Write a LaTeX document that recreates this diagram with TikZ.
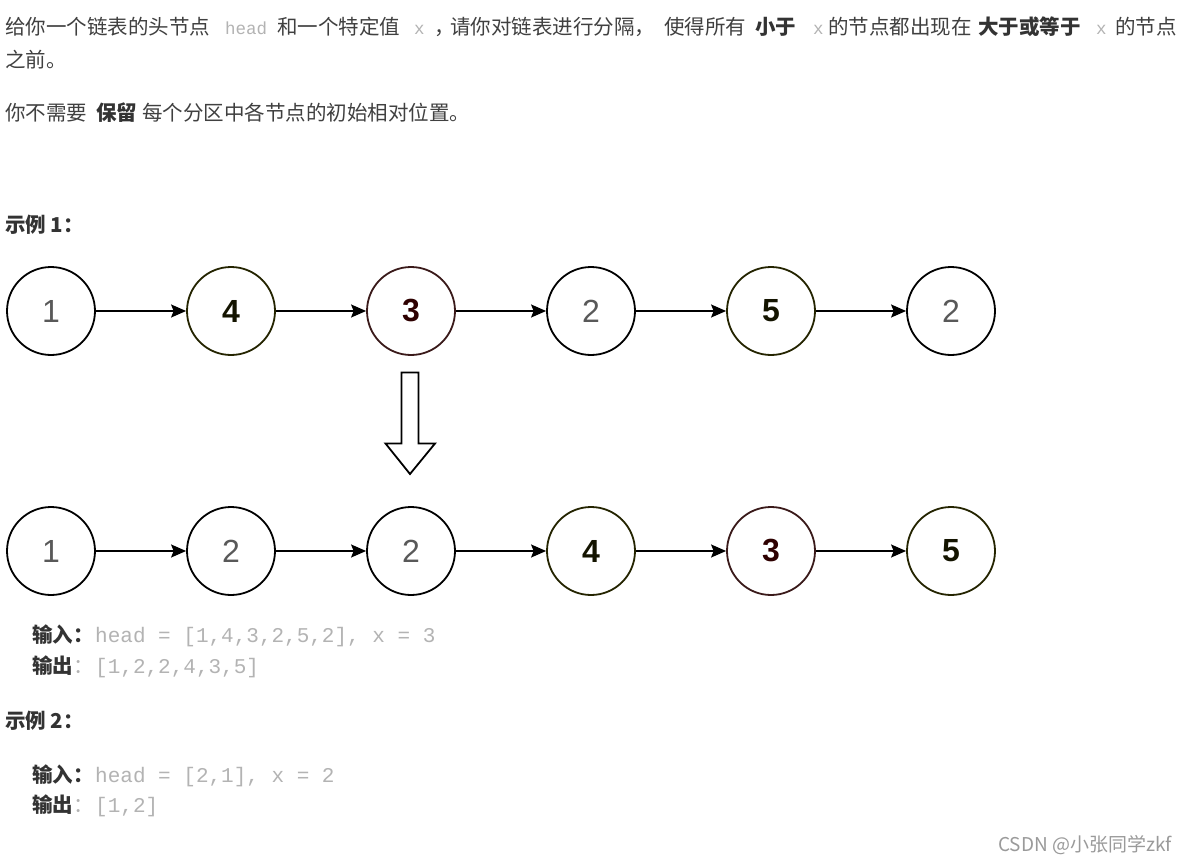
\documentclass[tikz,border=0pt]{standalone}
\usepackage{fontspec}
\setmainfont{Noto Sans CJK SC}
\newfontfamily\codefont{Liberation Mono}
\newfontfamily\numfont{Liberation Sans}
\usetikzlibrary{arrows.meta}
\definecolor{txtcol}{HTML}{404040}
\definecolor{boldcol}{HTML}{333333}
\definecolor{codecol}{HTML}{B3B3B3}
\definecolor{graynum}{HTML}{595959}
\definecolor{olivestroke}{HTML}{242400}
\definecolor{olivetext}{HTML}{141400}
\definecolor{redstroke}{HTML}{3A1A1A}
\definecolor{redtext}{HTML}{2E0000}
\definecolor{wmcol}{HTML}{9A9A9A}
\begin{document}
\begin{tikzpicture}[x=1pt,y=-1pt,
  txtnode/.style={anchor=base west,inner sep=0pt,text=txtcol,font=\fontsize{20.5}{23}\selectfont},
  boldnode/.style={anchor=base west,inner sep=0pt,text=boldcol,font=\fontsize{20.5}{23}\selectfont\bfseries},
  codenode/.style={anchor=base west,inner sep=0pt,text=codecol,font=\codefont\fontsize{17.5}{20}\selectfont},
  bigcode/.style={anchor=base west,inner sep=0pt,text=codecol,font=\codefont\fontsize{21}{24}\selectfont},
  lnode/.style={circle,draw=black,line width=1.8pt,minimum size=88pt,inner sep=0pt,fill=white,
     font=\numfont\fontsize{32}{32}\selectfont},
  plainnum/.style={lnode,text=graynum},
  olivenum/.style={lnode,draw=olivestroke,text=olivetext,font=\numfont\bfseries\fontsize{32}{32}\selectfont},
  rednum/.style={lnode,draw=redstroke,text=redtext,font=\numfont\bfseries\fontsize{32}{32}\selectfont},
  conn/.style={line width=1.6pt,-{Stealth[length=15pt,width=13pt,inset=2.5pt]}},
]
\useasboundingbox[fill=white] (0,0) rectangle (1187,864);

% ---- paragraph 1
\node[txtnode] (p1a) at (5,34.5) {给你一个链表的头节点};
\node[codenode] (p1b) at (225,34.5) {head};
\node[txtnode] (p1c) at (277,34.5) {和一个特定值};
\node[codenode] (p1d) at (414,34.5) {x};
\node[txtnode] (p1e) at (434,34.5) {，};
\node[txtnode] (p1f) at (450,34.5) {请你对链表进行分隔，};
\node[txtnode] (p1f2) at (664,34.5) {使得所有};
\node[boldnode] (p1g) at (755,34.5) {小于};
\node[codenode] (p1h) at (813,34.5) {x};
\node[txtnode] (p1i) at (828,34.5) {的节点都出现在};
\node[boldnode] (p1j) at (978,34.5) {大于或等于};
\node[codenode] (p1k) at (1096,34.5) {x};
\node[txtnode] (p1l) at (1115,34.5) {的节点};
\node[txtnode] (p1m) at (5,67.5) {之前。};

% ---- paragraph 2
\node[txtnode] (p2a) at (5,120.5) {你不需要};
\node[boldnode] (p2b) at (96,120.5) {保留};
\node[txtnode] (p2c) at (142,120.5) {每个分区中各节点的初始相对位置。};

% ---- example 1
\node[boldnode] (ex1) at (5,232.5) {示例 1：};

\node[plainnum] (a1) at (51,311) {1};
\node[olivenum] (a2) at (231,311) {4};
\node[rednum]   (a3) at (411,311) {3};
\node[plainnum] (a4) at (591,311) {2};
\node[olivenum] (a5) at (771,311) {5};
\node[plainnum] (a6) at (951,311) {2};
\draw[conn] (a1) -- (a2);
\draw[conn] (a2) -- (a3);
\draw[conn] (a3) -- (a4);
\draw[conn] (a4) -- (a5);
\draw[conn] (a5) -- (a6);

% block arrow
\draw[line width=1.8pt,line join=miter,fill=white]
  (401.5,372.5) -- (418.5,372.5) -- (418.5,443.5) -- (435,443.5) -- (410,474)
  -- (385.5,443.5) -- (401.5,443.5) -- cycle;

\node[plainnum] (b1) at (51,551) {1};
\node[plainnum] (b2) at (231,551) {2};
\node[plainnum] (b3) at (411,551) {2};
\node[olivenum] (b4) at (591,551) {4};
\node[rednum]   (b5) at (771,551) {3};
\node[olivenum] (b6) at (951,551) {5};
\draw[conn] (b1) -- (b2);
\draw[conn] (b2) -- (b3);
\draw[conn] (b3) -- (b4);
\draw[conn] (b4) -- (b5);
\draw[conn] (b5) -- (b6);

\node[boldnode] (in1) at (32,642) {输入：};
\node[bigcode] (in1v) at (95,642) {head = [1,4,3,2,5,2], x = 3};
\node[boldnode] (out1) at (32,673) {输出};
\node[txtnode,text=codecol] (out1c) at (73,673) {：};
\node[bigcode] (out1v) at (95,673) {[1,2,2,4,3,5]};

% ---- example 2
\node[boldnode] (ex2) at (5,728) {示例 2：};
\node[boldnode] (in2) at (32,782) {输入：};
\node[bigcode] (in2v) at (95,782) {head = [2,1], x = 2};
\node[boldnode] (out2) at (32,812) {输出};
\node[txtnode,text=codecol] (out2c) at (73,812) {：};
\node[bigcode] (out2v) at (95,812) {[1,2]};

% watermark
\node[anchor=base east,inner sep=0pt,text=wmcol,font=\fontsize{19}{22}\selectfont] (wm) at (1172,851) {CSDN @小张同学zkf};
\end{tikzpicture}
\end{document}
